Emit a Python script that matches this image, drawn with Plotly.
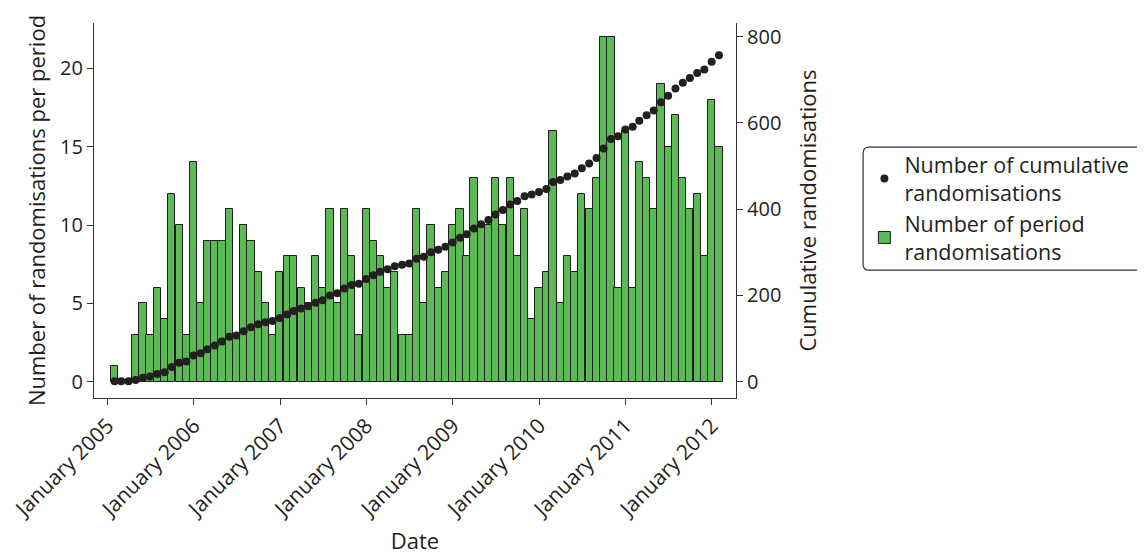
import pandas as pd
import plotly.graph_objects as go

# Monthly periods (85 months, Jan 2005 .. Jan 2012), plotted at month end
period_dates = pd.date_range("2005-02-01", periods=85, freq="MS") - pd.Timedelta(days=1)

period_randomisations = [
    1, 0, 0, 3, 5, 3, 6, 4, 12, 10, 3, 14, 5, 9, 9,
    9, 11, 3, 10, 9, 7, 5, 3, 7, 8, 8, 6, 5, 8,
    6, 11, 5, 11, 8, 3, 11, 9, 8, 6, 7, 3, 3, 11,
    5, 10, 6, 7, 10, 11, 8, 13, 10, 10, 13, 10, 13,
    8, 11, 4, 6, 7, 16, 5, 8, 7, 12, 11, 13, 22, 22,
    6, 16, 6, 14, 13, 11, 19, 15, 17, 13, 11, 12, 8, 18, 15,
]

cumulative_randomisations = [
    1, 1, 1, 4, 9, 12, 18, 22, 34, 44, 47, 61, 66, 75, 84,
    93, 104, 107, 117, 126, 133, 138, 141, 148, 156, 164, 170, 175, 183,
    189, 200, 205, 216, 224, 227, 238, 247, 255, 261, 268, 271, 274, 285,
    290, 300, 306, 313, 323, 334, 342, 355, 365, 375, 388, 398, 411,
    419, 430, 434, 440, 447, 463, 468, 476, 483, 495, 506, 519, 541, 563,
    569, 585, 591, 605, 618, 629, 648, 663, 680, 693, 704, 716, 724, 742, 757,
]

tick_dates = [f"{y}-01-01" for y in range(2005, 2013)]
tick_labels = [f"January {y}" for y in range(2005, 2013)]

FONT = "Open Sans"
TXT = "#231f20"
GREEN = "#5cba55"

fig = go.Figure()
fig.add_trace(go.Bar(
    x=period_dates, y=period_randomisations,
    name="Number of period<br>randomisations",
    marker=dict(color=GREEN, line=dict(color="#1e1e1e", width=1)),
    width=30.4 * 86400000,
    yaxis="y",
))
fig.add_trace(go.Scatter(
    x=period_dates, y=cumulative_randomisations,
    name="Number of cumulative<br>randomisations",
    mode="markers",
    marker=dict(color=TXT, size=8),
    yaxis="y2",
))

axis_common = dict(
    ticks="outside", ticklen=6, tickwidth=1.2, tickcolor="#333",
    showline=True, linecolor="#333", linewidth=1.2,
    showgrid=False, zeroline=False, automargin=False,
)

fig.update_layout(
    width=1137, height=547,
    margin=dict(l=86, r=409, t=15, b=157, autoexpand=False),
    plot_bgcolor="white", paper_bgcolor="white",
    font=dict(family=FONT, size=20, color=TXT),
    bargap=0,
    showlegend=True,
    legend=dict(
        x=1.2, y=0.677, xanchor="left", yanchor="top",
        traceorder="reversed",
        font=dict(size=21.5, color=TXT),
        bgcolor="rgba(0,0,0,0)", borderwidth=0,
        tracegroupgap=0,
    ),
    xaxis=dict(
        type="date",
        range=["2004-11-05", "2012-04-12"],
        tickvals=tick_dates, ticktext=tick_labels,
        tickangle=-45,
        ticklabeloverflow="allow",
        title=dict(text="Date", font=dict(size=22), standoff=14),
        tickfont=dict(size=21),
        **axis_common,
    ),
    yaxis=dict(
        range=[-1.04, 22.89],
        tickvals=[0, 5, 10, 15, 20],
        title=dict(text="Number of randomisations per period", font=dict(size=22), standoff=8),
        tickfont=dict(size=20),
        **axis_common,
    ),
    yaxis2=dict(
        overlaying="y", side="right",
        range=[-37.8, 831.8],
        tickvals=[0, 200, 400, 600, 800],
        title=dict(text="Cumulative randomisations", font=dict(size=22), standoff=20),
        tickfont=dict(size=20),
        **axis_common,
    ),
)

# Rounded legend frame
x0, x1 = 1.198, 1.634
y0, y1 = 0.341, 0.669
rx, ry = 6 / 642, 6 / 375
path = (f"M {x0+rx},{y1} L {x1-rx},{y1} Q {x1},{y1} {x1},{y1-ry} "
        f"L {x1},{y0+ry} Q {x1},{y0} {x1-rx},{y0} L {x0+rx},{y0} "
        f"Q {x0},{y0} {x0},{y0+ry} L {x0},{y1-ry} Q {x0},{y1} {x0+rx},{y1} Z")
fig.add_shape(type="path", path=path, xref="paper", yref="paper",
              line=dict(color="#333", width=1.2), fillcolor="rgba(0,0,0,0)")

fig.write_html("out.html")
